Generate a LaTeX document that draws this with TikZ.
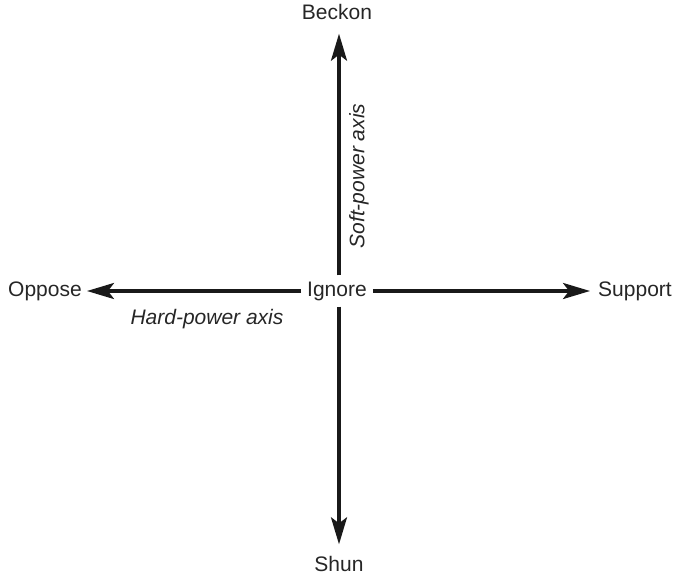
\documentclass[tikz,border=0pt]{standalone}
\usepackage{fontspec}
\setmainfont{Liberation Sans}
\usetikzlibrary{arrows.meta}
\begin{document}
\begin{tikzpicture}[x=1pt,y=-1pt,
  lbl/.style={font=\fontsize{21}{25}\selectfont, text height=15pt, text depth=4pt, inner sep=0pt, text=black!85},
  axislbl/.style={font=\fontsize{21}{25}\selectfont\itshape, inner sep=0pt, text=black!85},
  axis/.style={line width=3.3pt, -{Stealth[length=27pt,width=16pt,inset=6pt]}, draw=black!90}]
\useasboundingbox (0,0) rectangle (674,576);
\node[lbl, inner sep=6pt] (ign) at (337,291) {Ignore};
\node[lbl, inner ysep=10pt] (beckon) at (337,14) {Beckon};
\node[lbl, inner ysep=12pt] (shun) at (339,566) {Shun};
\node[lbl, inner xsep=5pt] (oppose) at (45,291) {Oppose};
\node[lbl, inner xsep=8pt] (support) at (635,291) {Support};
\coordinate (vx) at (339,0);
\draw[axis] (ign.north -| vx) -- (beckon.south -| vx);
\draw[axis] (ign.south -| vx) -- (shun.north -| vx);
\draw[axis] (ign.west) -- (oppose.east);
\draw[axis] (ign.east) -- (support.west);
\node[axislbl] (hard) at (207,319) {Hard-power axis};
\node[axislbl, rotate=90] (soft) at (359,176) {Soft-power axis};
\end{tikzpicture}
\end{document}
